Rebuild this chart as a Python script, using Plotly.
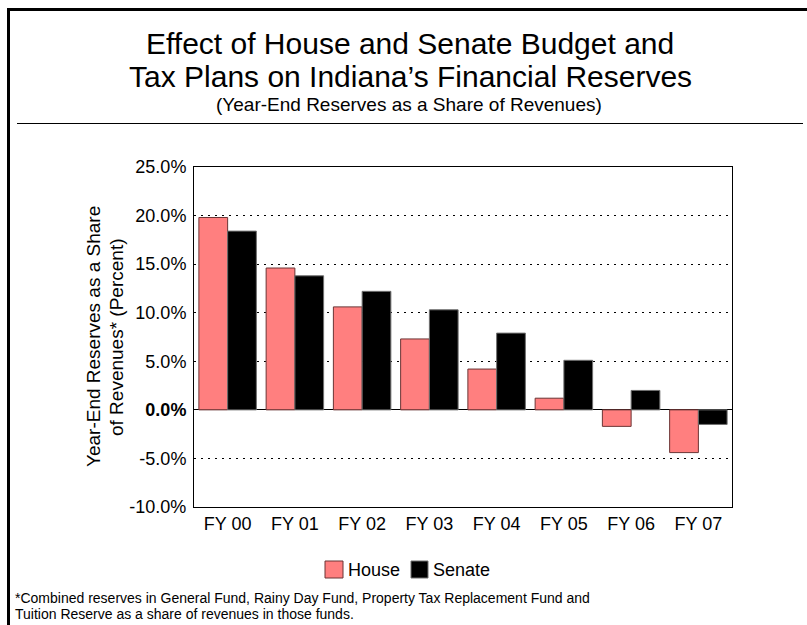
import plotly.graph_objects as go

categories = ["FY 00", "FY 01", "FY 02", "FY 03", "FY 04", "FY 05", "FY 06", "FY 07"]
house = [19.8, 14.6, 10.6, 7.3, 4.2, 1.2, -1.7, -4.4]
senate = [18.4, 13.8, 12.2, 10.3, 7.9, 5.1, 2.0, -1.5]
tick_vals = [25, 20, 15, 10, 5, 0, -5, -10]
tick_text = ["25.0%", "20.0%", "15.0%", "10.0%", "5.0%", "<b>0.0%</b>", "-5.0%", "-10.0%"]
series_names = ["House", "Senate"]
series_colors = ["#FF7F7F", "#000000"]
series_edges = ["#6b3535", "#707070"]

W, H = 807, 625
L, R, T, B = 194, 732, 167, 507

def px(x):
    return (x - L) / (R - L)

def py(y):
    return (B - y) / (B - T)

FONT = "Liberation Sans, Arial, sans-serif"

fig = go.Figure()
for name, vals, col, edge in zip(series_names, [house, senate], series_colors, series_edges):
    fig.add_trace(go.Bar(name=name, x=categories, y=vals, showlegend=False,
                         marker=dict(color=col, line=dict(color=edge, width=1))))

shapes = [
    dict(type="line", xref="paper", yref="paper", x0=px(8.5), x1=px(808), y0=py(9.5), y1=py(9.5),
         line=dict(color="black", width=3)),
    dict(type="line", xref="paper", yref="paper", x0=px(8.5), x1=px(8.5), y0=py(8), y1=py(626),
         line=dict(color="black", width=3)),
    dict(type="line", xref="paper", yref="paper", x0=px(17), x1=px(803), y0=py(123.5), y1=py(123.5),
         line=dict(color="black", width=1)),
]

annotations = [
    dict(text="Effect of House and Senate Budget and",
         xref="paper", yref="paper", x=px(410), y=py(44), showarrow=False,
         font=dict(family=FONT, size=30, color="black"), xanchor="center", yanchor="middle"),
    dict(text="Tax Plans on Indiana’s Financial Reserves",
         xref="paper", yref="paper", x=px(410), y=py(76), showarrow=False,
         font=dict(family=FONT, size=30, color="black"), xanchor="center", yanchor="middle"),
    dict(text="(Year-End Reserves as a Share of Revenues)",
         xref="paper", yref="paper", x=px(409), y=py(104), showarrow=False,
         font=dict(family=FONT, size=19, color="black"), xanchor="center", yanchor="middle"),
    dict(text="Year-End Reserves as a Share",
         xref="paper", yref="paper", x=px(93), y=py(337), showarrow=False, textangle=-90,
         font=dict(family=FONT, size=19, color="black"), xanchor="center", yanchor="middle"),
    dict(text="of Revenues* (Percent)",
         xref="paper", yref="paper", x=px(116), y=py(337), showarrow=False, textangle=-90,
         font=dict(family=FONT, size=19, color="black"), xanchor="center", yanchor="middle"),
    dict(text="*Combined reserves in General Fund, Rainy Day Fund, Property Tax Replacement Fund and",
         xref="paper", yref="paper", x=px(13), y=py(598), showarrow=False, align="left",
         font=dict(family=FONT, size=14, color="black"), xanchor="left", yanchor="middle"),
    dict(text="Tuition Reserve as a share of revenues in those funds.",
         xref="paper", yref="paper", x=px(13), y=py(614), showarrow=False, align="left",
         font=dict(family=FONT, size=14, color="black"), xanchor="left", yanchor="middle"),
]

legend_box_x = [(325, 343), (411, 428)]
for (x0, x1), name, col, edge in zip(legend_box_x, series_names, series_colors, series_edges):
    shapes.append(dict(type="rect", xref="paper", yref="paper", x0=px(x0), x1=px(x1),
                       y0=py(578), y1=py(561), fillcolor=col, line=dict(color=edge, width=1)))
    annotations.append(dict(text=name, xref="paper", yref="paper", x=px(x1 + 3), y=py(570),
                            showarrow=False, xanchor="left", yanchor="middle",
                            font=dict(family=FONT, size=18, color="black")))

fig.update_layout(
    width=W, height=H,
    margin=dict(l=L, r=W - R, t=T, b=H - B, pad=0),
    paper_bgcolor="white", plot_bgcolor="white",
    barmode="group", bargap=0.145, bargroupgap=0,
    font=dict(family=FONT, color="black"),
    showlegend=False,
    shapes=shapes, annotations=annotations,
    xaxis=dict(showline=True, mirror=True, linecolor="black", linewidth=1,
               ticks="", tickfont=dict(family=FONT, size=18, color="black"), showgrid=False),
    yaxis=dict(range=[-10, 25], tickvals=tick_vals, ticktext=tick_text,
               showline=True, mirror=True, linecolor="black", linewidth=1,
               showgrid=True, gridcolor="black", gridwidth=1, griddash="2px,5px",
               zeroline=True, zerolinecolor="black", zerolinewidth=1.3,
               ticks="", tickfont=dict(family=FONT, size=18, color="black"), ticklabelstandoff=3),
)

fig.write_html("out.html", config={"displayModeBar": False},
               post_script="document.body.style.margin='0';document.body.style.padding='0';")
